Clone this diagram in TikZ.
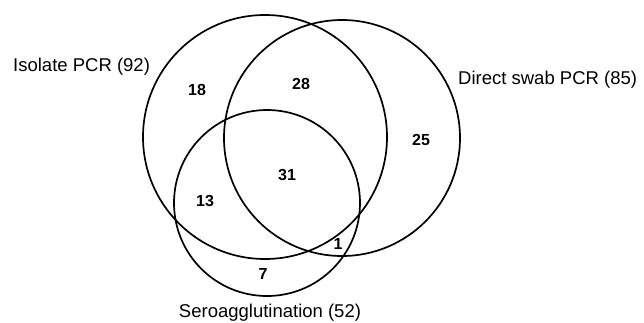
\documentclass[tikz,border=0pt]{standalone}
\usepackage{fontspec}
\setmainfont{Liberation Sans}
\begin{document}
\begin{tikzpicture}[x=1pt,y=-1pt,
  setc/.style={circle,draw=black,line width=1.7pt,inner sep=0pt},
  lbl/.style={font=\fontsize{18.5}{20}\selectfont,inner sep=0pt},
  num/.style={font=\fontsize{16}{18}\selectfont\bfseries,inner sep=0pt}]
\useasboundingbox (0,0) rectangle (644,322);
\node[setc,minimum size=244pt] (iso) at (265,137) {};
\node[setc,minimum size=236pt] (dir) at (342,138) {};
\node[setc,minimum size=186pt] (ser) at (267,203) {};
\node[lbl,anchor=west] (lIso) at (13,67) {Isolate PCR (92)};
\node[lbl,anchor=west] (lDir) at (458,80) {Direct swab PCR (85)};
\node[lbl] (lSer) at (270,313) {Seroagglutination (52)};
\node[num] (n18) at (197,90) {18};
\node[num] (n28) at (301,84) {28};
\node[num] (n25) at (421,140) {25};
\node[num] (n31) at (287,175) {31};
\node[num] (n13) at (205,201) {13};
\node[num] (n7) at (263,274) {7};
\node[num] (n1) at (338,244) {1};
\end{tikzpicture}
\end{document}
